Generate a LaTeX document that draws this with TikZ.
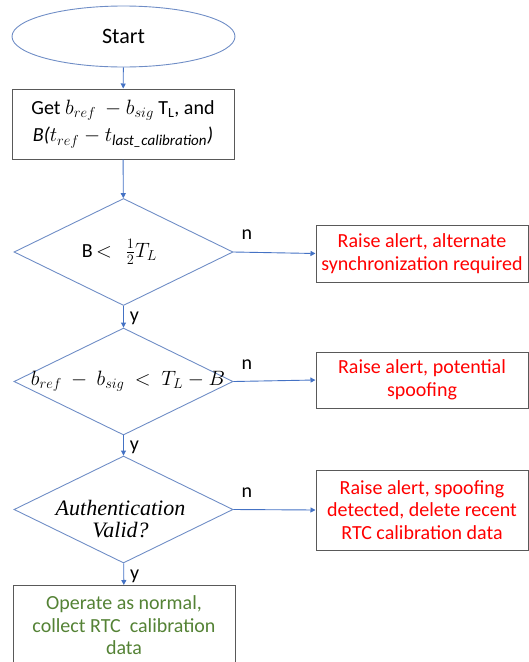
\documentclass[tikz,border=0pt]{standalone}
\usepackage{fontspec}
\setmainfont{Carlito}
\newfontfamily\mathserif{Liberation Serif}
\usetikzlibrary{shapes.geometric,arrows.meta}
\definecolor{flowblue}{HTML}{4472C4}
\definecolor{shapeblue}{HTML}{6F8DC6}
\definecolor{boxgray}{HTML}{595959}
\definecolor{alertred}{HTML}{FF0000}
\definecolor{okgreen}{HTML}{548235}
\tikzset{
  base/.style={font=\fontsize{20}{22.5}\selectfont, align=center, inner sep=0pt},
  terminal/.style={base, ellipse, draw=shapeblue, line width=0.9pt, minimum width=223pt, minimum height=61pt},
  process/.style={base, rectangle, draw=boxgray, line width=1pt},
  decision/.style={base, diamond, draw=shapeblue, line width=0.9pt, minimum width=219pt, minimum height=107pt},
  alert/.style={process, text=alertred, minimum width=212pt},
  flow/.style={draw=flowblue, line width=0.9pt, -{Triangle[length=5pt,width=5pt]}},
  branch/.style={base, text=black}
}
\begin{document}
\begin{tikzpicture}[x=1pt,y=-1pt]
\useasboundingbox (0,0) rectangle (529,662);
\clip (0,0) rectangle (529,662);

% main column
\node[terminal] (start) at (123.5,36.5) {\fontsize{22}{24}\selectfont Start};
\node[process, minimum width=222pt, minimum height=70pt] (get) at (123,124)
  {Get $b_{ref}\ -b_{sig}$ T\textsubscript{L}, and\\[5pt]
   \textit{B(}$t_{ref}-t_{\mbox{\itshape\fontsize{15}{15}\selectfont last\_calibration}}$\textit{)}};
\node[decision] (d1) at (123.5,252) {\makebox[0pt]{\hspace{-8pt}B\,$<$\ \ \ $\frac{1}{2}T_L$}};
\node[decision] (d2) at (123.5,381.5) {\makebox[0pt]{\hspace{9pt}\fontsize{21}{22}\selectfont$b_{ref}\ -\ b_{sig}\ <\ T_L-B$}};
\node[decision] (d3) at (123.5,509.5) {\smash{\makebox[0pt]{\hspace{-6pt}\raisebox{-18pt}{\fontsize{22}{22}\selectfont\mathserif\itshape\begin{tabular}{@{}c@{}}Authentication\\Valid?\end{tabular}}}}};
\node[process, text=okgreen, anchor=north, minimum width=222pt, minimum height=80pt] (ok) at (124,585)
  {Operate as normal,\\collect RTC\ \ calibration\\data};

% alert boxes
\node[alert, minimum height=57pt] (a1) at (422,253.5) {Raise alert, alternate\\synchronization required};
\node[alert, minimum height=56pt] (a2) at (422,380) {Raise alert, potential\\spoofing};
\node[alert, minimum height=80pt] (a3) at (422,510) {Raise alert, spoofing\\detected, delete recent\\RTC calibration data};

% connectors
\draw[flow] (start) -- (get);
\draw[flow] (get) -- (d1);
\draw[flow] (d1) -- node[branch, anchor=west, xshift=6pt, yshift=-2pt] (y1) {y} (d2);
\draw[flow] (d2) -- node[branch, anchor=west, xshift=6pt, yshift=-2pt] (y2) {y} (d3);
\draw[flow] (d3) -- node[branch, anchor=west, xshift=6pt, yshift=-2pt] (y3) {y} (ok);
\draw[flow] (d1.east) -- (a1.west);
\draw[flow] (d2.east) -- (a2.west);
\draw[flow] (d3.east) -- (a3.west);
\node[branch] (n1) at (247,235) {n};
\node[branch] (n2) at (247,365) {n};
\node[branch] (n3) at (247,493) {n};
\end{tikzpicture}
\end{document}
